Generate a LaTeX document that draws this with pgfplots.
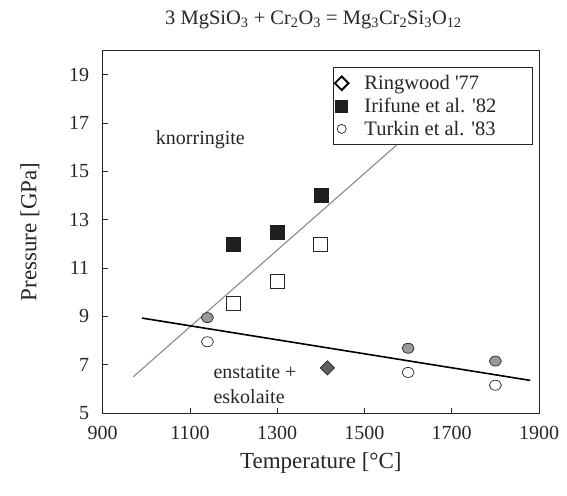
\documentclass[border=0pt]{standalone}
\usepackage{pgfplots}
\pgfplotsset{compat=1.18}
\usepackage{fontspec}
\setmainfont{Liberation Serif}
\definecolor{midgray}{HTML}{999999}
\definecolor{darkgray}{HTML}{5F5F5F}
\definecolor{linegray}{HTML}{8A8A8A}
\begin{document}
\begin{tikzpicture}
\path[use as bounding box] (-102.7pt,-82pt) rectangle (464.3pt,413pt);
\begin{axis}[
  scale only axis,
  width=436.3pt, height=362.3pt,
  xmin=900, xmax=1900, ymin=5, ymax=20,
  xtick={900,1100,1300,1500,1700,1900},
  ytick={5,7,9,11,13,15,17,19},
  tick align=inside,
  xtick pos=bottom, ytick pos=left,
  major tick length=5pt,
  axis line style={line width=1pt, black!85},
  tick style={line width=0.8pt, black!85},
  /pgf/number format/assume math mode=true,
  /pgf/number format/1000 sep={},
  ticklabel style={font=\fontsize{20}{24}\selectfont, text=black!85},
  yticklabel style={xshift=-10pt},
  xticklabel style={yshift=-10pt},
  xlabel={Temperature [°C]},
  ylabel={Pressure [GPa]},
  label style={font=\fontsize{23}{27}\selectfont, text=black!85},
  xlabel style={at={(axis description cs:0.5,-0.138)}, anchor=center},
  ylabel style={at={(axis description cs:-0.1667,0.5)}, anchor=center},
  title={3 MgSiO\textsubscript{3} + Cr\textsubscript{2}O\textsubscript{3} = Mg\textsubscript{3}Cr\textsubscript{2}Si\textsubscript{3}O\textsubscript{12}},
  title style={at={(axis description cs:0.483,1.068)}, anchor=center, font=\fontsize{20.5}{24}\selectfont, text=black!85},
  legend style={at={(axis description cs:0.986,0.955)}, anchor=north east,
    draw=black!85, line width=0.8pt, fill=white,
    font=\fontsize{20.5}{22}\selectfont, text=black!85,
    inner xsep=2pt, inner ysep=6pt, row sep=3pt,
    cells={anchor=west}},
  legend image post style={xshift=14pt},
  legend cell align=left,
  clip=false,
]
% lines
\addplot[linegray, line width=1.1pt, forget plot] coordinates {(970,6.5) (1700,18.1)};
\addplot[black, line width=1.6pt, forget plot] coordinates {(990,8.93) (1880,6.35)};
% Irifune open squares
\addplot[only marks, mark=square*, mark size=7pt, mark options={fill=white, draw=black!85, line width=0.8pt}, forget plot]
  coordinates {(1200,9.55) (1300,10.45) (1400,12.0)};
% Irifune filled squares
\addplot[only marks, mark=square*, mark size=7pt, mark options={fill=black!88, draw=black!88}, forget plot]
  coordinates {(1200,12.0) (1300,12.47) (1400,14.0)};
% Turkin gray circles
\addplot[only marks, mark=*, mark size=5pt, mark options={xscale=1.2, fill=midgray, draw=black!85, line width=0.7pt}, forget plot]
  coordinates {(1140,8.95) (1600,7.68) (1800,7.15)};
% Turkin open circles
\addplot[only marks, mark=*, mark size=5pt, mark options={xscale=1.2, fill=white, draw=black!85, line width=0.7pt}, forget plot]
  coordinates {(1140,7.95) (1600,6.68) (1800,6.15)};
% Ringwood diamond
\addplot[only marks, mark=square*, mark size=5pt, mark options={rotate=45, fill=darkgray, draw=black!85, line width=0.7pt}, forget plot]
  coordinates {(1415,6.87)};
% legend entries
\addlegendimage{only marks, mark=square*, mark size=4.8pt, mark options={rotate=45, fill=white, draw=black, line width=1.8pt}}
\addlegendentry{\makebox[178pt][l]{\hspace*{14pt}Ringwood \textquotesingle 77}}
\addlegendimage{only marks, mark=square*, mark size=6pt, mark options={fill=black!88, draw=black!88}}
\addlegendentry{\makebox[178pt][l]{\hspace*{14pt}Irifune et al. \textquotesingle 82}}
\addlegendimage{only marks, mark=*, mark size=4.5pt, mark options={fill=white, draw=black!85, line width=0.7pt}}
\addlegendentry{\makebox[178pt][l]{\hspace*{14pt}Turkin et al. \textquotesingle 83}}
% annotations
\node[font=\fontsize{20}{24}\selectfont, text=black!85] at (axis cs:1124,16.3) {knorringite};
\node[font=\fontsize{20}{24}\selectfont, text=black!85, anchor=west] at (axis cs:1146,6.7) {enstatite +};
\node[font=\fontsize{20}{24}\selectfont, text=black!85, anchor=west] at (axis cs:1146,5.67) {eskolaite};
\end{axis}
\end{tikzpicture}
\end{document}
